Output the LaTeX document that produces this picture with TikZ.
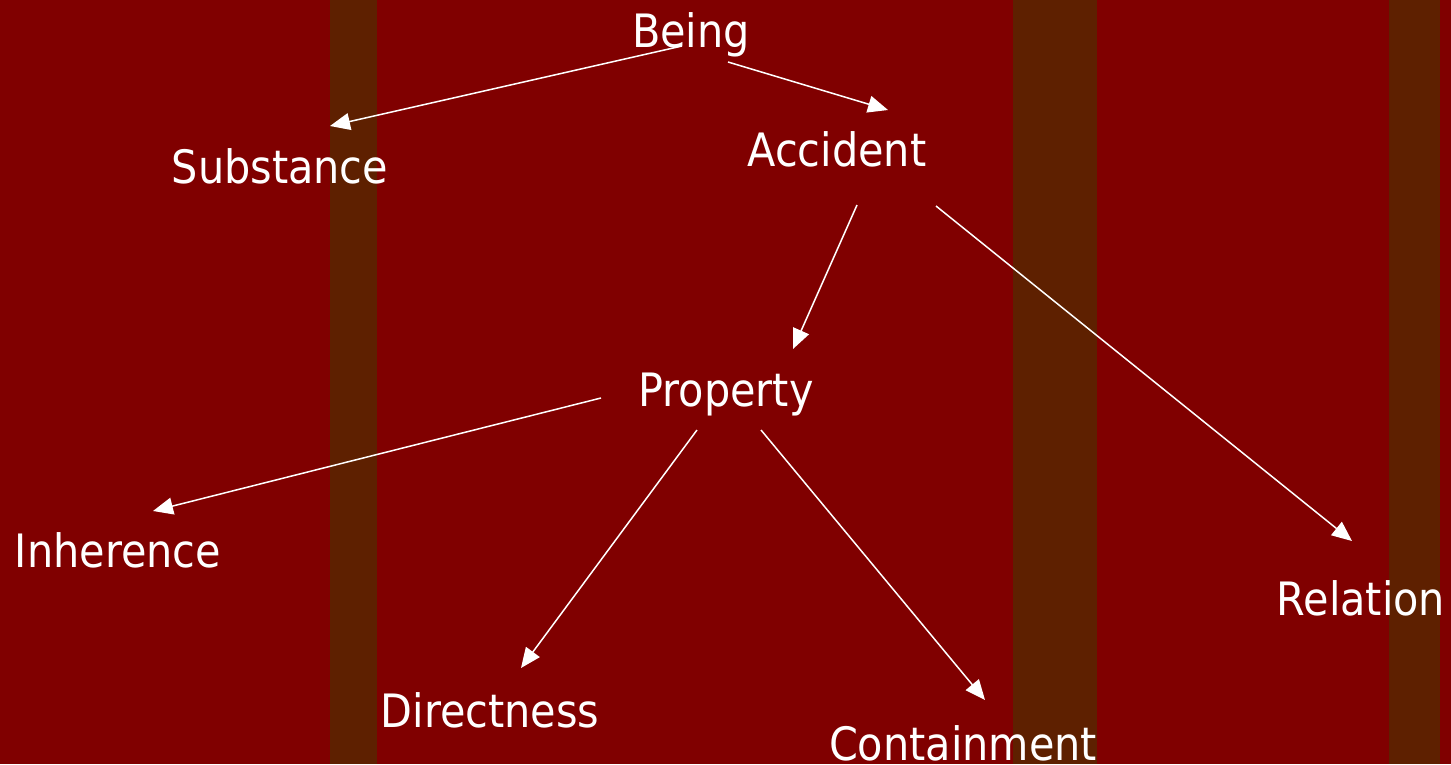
\documentclass[tikz,border=0pt]{standalone}
\usepackage{fontspec}
\setmainfont{DejaVu Sans Condensed}
\usetikzlibrary{arrows.meta,calc}
\definecolor{bgred}{HTML}{800000}
\definecolor{stripe}{HTML}{5E2000}
\tikzset{
  lbl/.style={text=white, font=\fontsize{46}{50}\selectfont, inner sep=0pt, anchor=base},
  arr/.style={draw=white, line width=1.5pt, -{Triangle[length=20pt,width=17pt]}}
}
\begin{document}
\begin{tikzpicture}[x=1pt,y=-1pt]
\useasboundingbox (0,0) rectangle (1451,764);
\fill[bgred] (0,0) rectangle (1451,764);
\fill[stripe] (330,0) rectangle (377,764);
\fill[stripe] (1013,0) rectangle (1097,764);
\fill[stripe] (1389,0) rectangle (1440,764);
\node[lbl] (being) at (691,47) {Being};
\node[lbl] (substance) at (280,183) {Substance};
\node[lbl] (accident) at (837,166) {Accident};
\node[lbl] (property) at (726,406) {Property};
\node[lbl] (inherence) at (118,567) {Inherence};
\node[lbl] (relation) at (1361,615) {Relation};
\node[lbl] (directness) at (490,727) {Directness};
\node[lbl] (containment) at (963,760) {Containment};
\draw[arr] ($(being.base)+(-9,-1)$) -- ($(substance.base)+(50,-57)$);
\draw[arr] ($(being.base)+(37,15)$) -- ($(accident.base)+(51,-56)$);
\draw[arr] ($(accident.base)+(20,39)$) -- ($(property.base)+(67,-57)$);
\draw[arr] ($(accident.base)+(99,40)$) -- ($(relation.base)+(-9,-74)$);
\draw[arr] ($(property.base)+(-125,-8)$) -- ($(inherence.base)+(35,-56)$);
\draw[arr] ($(property.base)+(-29,24)$) -- ($(directness.base)+(31,-59)$);
\draw[arr] ($(property.base)+(35,24)$) -- ($(containment.base)+(22,-60)$);
\end{tikzpicture}
\end{document}
